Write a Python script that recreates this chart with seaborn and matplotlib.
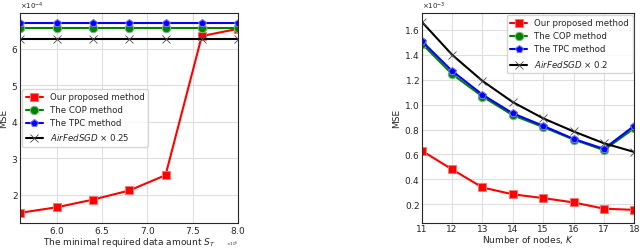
import numpy as np
import matplotlib
matplotlib.use("Agg")
import matplotlib.pyplot as plt
import seaborn as sns

sns.set_style("whitegrid", {"axes.edgecolor": "0.15", "grid.color": "0.87"})
plt.rcParams['font.family'] = ['DejaVu Sans']
plt.rcParams['font.size'] = 6.5
plt.rcParams['mathtext.fontset'] = 'dejavusans'

# ---------------- DATA ----------------
# left panel: MSE vs minimal required data amount S_T
s_t = [5.6e6, 6.0e6, 6.4e6, 6.8e6, 7.2e6, 7.6e6, 8.0e6]
left_ours = [1.51e-4, 1.66e-4, 1.87e-4, 2.12e-4, 2.54e-4, 6.35e-4, 6.55e-4]
left_cop = [6.57e-4] * 7
left_tpc = [6.72e-4] * 7
left_air = [6.26e-4] * 7

# right panel: MSE vs number of nodes K
nodes = [11, 12, 13, 14, 15, 16, 17, 18]
right_ours = [0.63e-3, 0.48e-3, 0.335e-3, 0.28e-3, 0.25e-3, 0.215e-3, 0.165e-3, 0.155e-3]
right_cop = [1.49e-3, 1.245e-3, 1.065e-3, 0.915e-3, 0.82e-3, 0.72e-3, 0.635e-3, 0.81e-3]
right_tpc = [1.51e-3, 1.27e-3, 1.08e-3, 0.93e-3, 0.83e-3, 0.725e-3, 0.645e-3, 0.83e-3]
right_air = [1.665e-3, 1.40e-3, 1.19e-3, 1.02e-3, 0.89e-3, 0.785e-3, 0.69e-3, 0.62e-3]

labels = ["Our proposed method", "The COP method", "The TPC method"]


def draw(ax, x, ours, cop, tpc, air, air_label):
    sns.lineplot(x=x, y=ours, ax=ax, color="red", marker="s", markersize=6,
                 markeredgecolor=(1, 0.45, 0.45), linewidth=1.5, label=labels[0])
    sns.lineplot(x=x, y=cop, ax=ax, color="green", marker="o", markersize=6,
                 markeredgecolor=(0.45, 0.72, 0.45), linewidth=1.5, label=labels[1])
    sns.lineplot(x=x, y=tpc, ax=ax, color="blue", marker="p", markersize=6,
                 markeredgecolor=(0.45, 0.45, 1), linewidth=1.5, label=labels[2])
    sns.lineplot(x=x, y=air, ax=ax, color="black", marker="x", markersize=6,
                 markeredgecolor="0.3", markeredgewidth=0.6, linewidth=1.5,
                 label=air_label)
    ax.set_ylabel("MSE", labelpad=2)
    ax.ticklabel_format(style="sci", axis="y", scilimits=(0, 0), useMathText=True)
    ax.tick_params(length=0, pad=1.5, labelsize=6.5)
    ax.yaxis.get_offset_text().set_fontsize(5)
    for sp in ax.spines.values():
        sp.set_linewidth(0.8)


fig = plt.figure(figsize=(6.4, 2.49), dpi=100)
ax1 = fig.add_axes([0.032, 0.106, 0.340, 0.840])
ax2 = fig.add_axes([0.659, 0.106, 0.332, 0.840])

draw(ax1, s_t, left_ours, left_cop, left_tpc, left_air,
     r"$\it{AirFedSGD}$ $\times$ 0.25")
ax1.set_xlim(5.6e6, 8.0e6)
ax1.set_ylim(1.24e-4, 6.97e-4)
ax1.set_xticks([6.0e6, 6.5e6, 7.0e6, 7.5e6, 8.0e6])
ax1.ticklabel_format(style="sci", axis="x", scilimits=(0, 0), useMathText=True)
ax1.xaxis.get_offset_text().set_fontsize(3)
ax1.set_xlabel("The minimal required data amount $S_T$", labelpad=0.5)
ax1.legend(loc="center left", bbox_to_anchor=(0.0, 0.5), fontsize=6.2,
           frameon=True, borderaxespad=0.2)

draw(ax2, nodes, right_ours, right_cop, right_tpc, right_air,
     r"$\it{AirFedSGD}$ $\times$ 0.2")
ax2.set_xlim(11, 18)
ax2.set_ylim(0.053e-3, 1.732e-3)
ax2.set_xticks(nodes)
ax2.set_xlabel("Number of nodes, $K$", labelpad=0.5)
ax2.legend(loc="upper right", fontsize=6.2, frameon=True, borderaxespad=0.2)

fig.savefig("out.png", dpi=100)
